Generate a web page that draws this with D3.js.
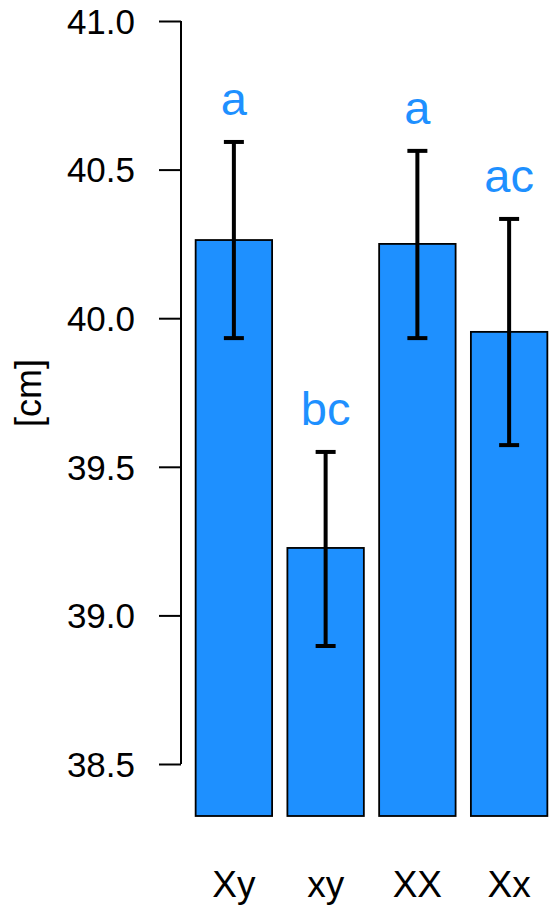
<!DOCTYPE html>
<html>
<head>
<meta charset="utf-8">
<script src="https://cdn.jsdelivr.net/npm/d3@7"></script>
<style>
  body { margin: 0; background: #fff; }
  svg { display: block; font-family: Arial, "Liberation Sans", sans-serif; }
</style>
</head>
<body>
<div id="chart"></div>
<script>
// data
const groups = ["Xy", "xy", "XX", "Xx"]
const means = [40.263, 39.227, 40.250, 39.954]
const upper = [40.593, 39.550, 40.563, 40.334]
const lower = [39.933, 38.897, 39.933, 39.573]
const letters = ["a", "bc", "a", "ac"]
const yTicks = [38.5, 39.0, 39.5, 40.0, 40.5, 41.0]

const width = 558, height = 907
const blue = "#1e90ff"

const svg = d3.select("#chart")
  .append("svg")
  .attr("width", width)
  .attr("height", height)

// y scale: 41.0 at y=21, 38.5 at y=764; plot region continues down to the bar base
const y = d3.scaleLinear()
  .domain([38.5, 41.0])
  .range([764, 21])
const yBase = y.invert(816)

const x = d3.scaleBand()
  .domain(groups)
  .range([188, 555])
  .paddingInner(1 / 6)
  .paddingOuter(1 / 12)

// y axis
const yAxis = svg.append("g")
  .attr("transform", "translate(181,0)")
  .call(d3.axisLeft(y).tickValues(yTicks).tickFormat(d3.format(".1f")).tickSize(22).tickPadding(24))
yAxis.select(".domain").attr("stroke", "#000").attr("stroke-width", 2)
yAxis.selectAll(".tick line").attr("stroke", "#000").attr("stroke-width", 2)
yAxis.selectAll(".tick text")
  .attr("fill", "#000")
  .style("font-size", "35px")
  .attr("dy", "0.35em")

// fix domain path (no outer ticks)
yAxis.select(".domain").attr("d", `M0,${y(41.0)}V${y(38.5)}`)

svg.append("text")
  .attr("transform", `translate(41,393) rotate(-90)`)
  .attr("text-anchor", "middle")
  .style("font-size", "36px")
  .text("[cm]")

// bars
svg.selectAll("rect.bar")
  .data(groups)
  .join("rect")
  .attr("class", "bar")
  .attr("x", d => x(d))
  .attr("width", x.bandwidth())
  .attr("y", (d, i) => y(means[i]))
  .attr("height", (d, i) => y(yBase) - y(means[i]))
  .attr("fill", blue)
  .attr("stroke", "#000")
  .attr("stroke-width", 1.8)

// error bars
const capW = 20
const err = svg.append("g")
  .attr("stroke", "#000")
  .attr("stroke-width", 4)
groups.forEach((g, i) => {
  const cx = x(g) + x.bandwidth() / 2
  err.append("line")
    .attr("x1", cx).attr("x2", cx)
    .attr("y1", y(upper[i])).attr("y2", y(lower[i]))
  err.append("line")
    .attr("x1", cx - capW / 2).attr("x2", cx + capW / 2)
    .attr("y1", y(upper[i])).attr("y2", y(upper[i]))
  err.append("line")
    .attr("x1", cx - capW / 2).attr("x2", cx + capW / 2)
    .attr("y1", y(lower[i])).attr("y2", y(lower[i]))
})

// significance letters
svg.selectAll("text.letter")
  .data(groups)
  .join("text")
  .attr("class", "letter")
  .attr("x", d => x(d) + x.bandwidth() / 2)
  .attr("y", (d, i) => y(upper[i]) - 27)
  .attr("text-anchor", "middle")
  .attr("fill", blue)
  .style("font-size", "47px")
  .text((d, i) => letters[i])

// x labels
svg.selectAll("text.xlab")
  .data(groups)
  .join("text")
  .attr("class", "xlab")
  .attr("x", d => x(d) + x.bandwidth() / 2)
  .attr("y", 897)
  .attr("text-anchor", "middle")
  .style("font-size", "37px")
  .text(d => d)
</script>
</body>
</html>
